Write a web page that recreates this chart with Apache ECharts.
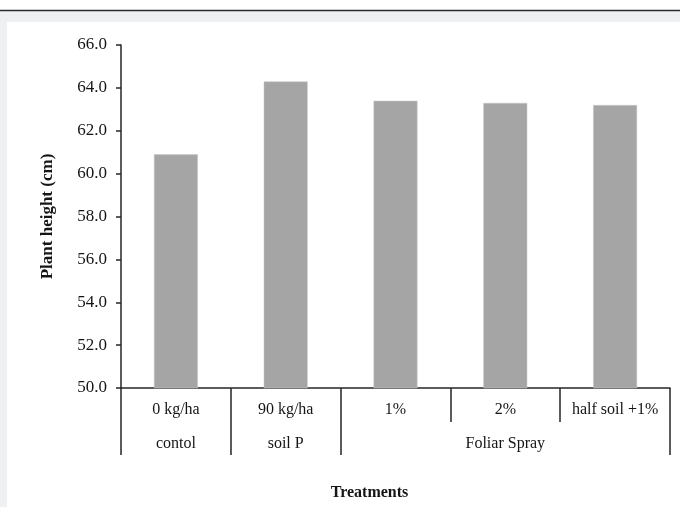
<!DOCTYPE html>
<html>
<head>
<meta charset="utf-8">
<script src="https://cdn.jsdelivr.net/npm/echarts@6/dist/echarts.min.js"></script>
<style>
html,body{margin:0;padding:0;background:#fff;}
#chart{width:680px;height:507px;}
</style>
</head>
<body>
<div id="chart"></div>
<script>
// ---- data ----
var categories = ['0 kg/ha', '90 kg/ha', '1%', '2%', 'half soil +1%'];
var plantHeight = [60.9, 64.3, 63.4, 63.3, 63.2];
var groupNames = ['contol', 'soil P', 'Foliar Spray'];
var groupSpans = [1, 1, 3];
var yTicks = { min: 50, max: 66, step: 2 };
var yAxisTitle = 'Plant height (cm)';
var xAxisTitle = 'Treatments';

// build group label row & group boundaries from groups
var groupLabelRow = [];
var groupStarts = {};
var idx = 0;
groupNames.forEach(function (g, i) {
  var span = groupSpans[i];
  groupStarts[idx] = true;
  var mid = idx + Math.floor(span / 2);
  for (var k = 0; k < span; k++) {
    groupLabelRow.push(idx + k === mid ? g : '');
  }
  idx += span;
});

var serif = '"Liberation Serif", "DejaVu Serif", serif';
var textColor = '#151515';
var lineColor = '#262626';

var chart = echarts.init(document.getElementById('chart'), null, { renderer: 'canvas' });
chart.setOption({
  animation: false,
  backgroundColor: '#ffffff',
  graphic: [
    { type: 'rect', z: -10, silent: true, shape: { x: 0, y: 11, width: 680, height: 11 }, style: { fill: '#eff0f2' } },
    { type: 'rect', z: -10, silent: true, shape: { x: 0, y: 11, width: 7, height: 496 }, style: { fill: '#eff0f2' } },
    { type: 'line', z: -9, silent: true, shape: { x1: 0, y1: 10.5, x2: 680, y2: 10.5 }, style: { stroke: '#2b2b2b', lineWidth: 1.5 } }
  ],
  grid: { left: 121, right: 10, top: 45, bottom: 119, containLabel: false },
  xAxis: [
    {
      type: 'category',
      data: categories,
      position: 'bottom',
      axisLine: { show: true, lineStyle: { color: lineColor, width: 1.5 } },
      axisTick: { show: true, length: 34, alignWithLabel: false, lineStyle: { color: lineColor, width: 1.5 } },
      axisLabel: { interval: 0, margin: 14, fontFamily: serif, fontSize: 16, color: textColor }
    },
    {
      type: 'category',
      data: groupLabelRow,
      position: 'bottom',
      offset: 0,
      axisLine: { show: false },
      axisTick: {
        show: true, length: 67, alignWithLabel: false,
        interval: function (i) { return !!groupStarts[i]; },
        lineStyle: { color: lineColor, width: 1.5 }
      },
      axisLabel: { interval: 0, margin: 48, fontFamily: serif, fontSize: 16, color: textColor },
      name: xAxisTitle,
      nameLocation: 'middle',
      nameGap: 97,
      nameTextStyle: { fontFamily: serif, fontSize: 16, fontWeight: 'bold', color: textColor, padding: [0, 52, 0, 0] }
    }
  ],
  yAxis: {
    type: 'value',
    min: yTicks.min,
    max: yTicks.max,
    interval: yTicks.step,
    splitLine: { show: false },
    axisLine: { show: true, lineStyle: { color: lineColor, width: 1.5 } },
    axisTick: { show: true, length: 5, lineStyle: { color: lineColor, width: 1.5 } },
    axisLabel: { margin: 14, fontFamily: serif, fontSize: 17, color: textColor, formatter: function (v) { return v.toFixed(1); } },
    name: yAxisTitle,
    nameLocation: 'middle',
    nameGap: 65,
    nameTextStyle: { fontFamily: serif, fontSize: 17, fontWeight: 'bold', color: textColor }
  },
  series: [{
    type: 'bar',
    xAxisIndex: 0,
    data: plantHeight,
    barWidth: '40%',
    itemStyle: { color: '#a5a5a5', borderColor: '#c8c8c8', borderWidth: 0.5 }
  }]
});
</script>
</body>
</html>
